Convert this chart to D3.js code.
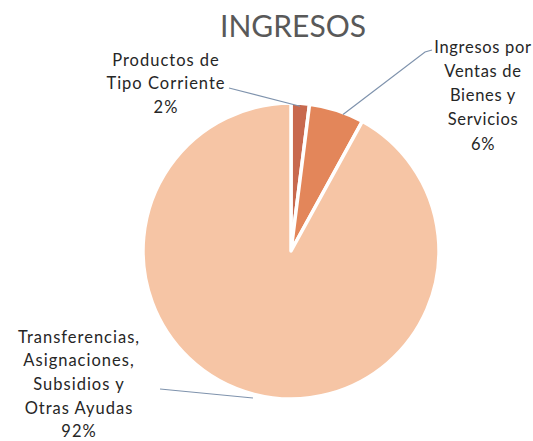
<!DOCTYPE html>
<html>
<head>
<meta charset="utf-8">
<script src="https://cdn.jsdelivr.net/npm/d3@7/dist/d3.min.js"></script>
<style>
  html, body { margin: 0; padding: 0; background: #ffffff; }
  svg { display: block; }
  text { font-family: Lato, "Open Sans", "Liberation Sans", sans-serif; }
</style>
</head>
<body>
<svg id="chart" width="533" height="441"></svg>
<script>
// Income breakdown (percent of total)
const categories = [
  "Productos de Tipo Corriente",
  "Ingresos por Ventas de Bienes y Servicios",
  "Transferencias, Asignaciones, Subsidios y Otras Ayudas"
];
const values = [2, 6, 92];
const labelLines = [
  ["Productos de", "Tipo  Corriente"],
  ["Ingresos por", "Ventas de", "Bienes y", "Servicios"],
  ["Transferencias,", "Asignaciones,", "Subsidios y", "Otras Ayudas"]
];
const colors = ["#c8694e", "#e3865a", "#f6c5a5"];

const svg = d3.select("#chart");
const cx = 291, cy = 251, r = 148;

svg.append("text")
  .attr("x", 293).attr("y", 37)
  .attr("text-anchor", "middle")
  .attr("font-size", 30)
  .attr("fill", "#595959")
  .text("INGRESOS");

const pie = d3.pie().sort(null).value(d => d)(values);
const arc = d3.arc().innerRadius(0).outerRadius(r);

const g = svg.append("g").attr("transform", `translate(${cx},${cy})`);
g.selectAll("path")
  .data(pie)
  .join("path")
  .attr("d", arc)
  .attr("fill", (d, i) => colors[i])
  .attr("stroke", "#ffffff")
  .attr("stroke-width", 3.5)
  .attr("stroke-linejoin", "round");

// Label blocks: centre x, first line centre y, line spacing
const labelPos = [
  { x: 166, y: 60, dy: 23.5, ls: 1.0 },
  { x: 483, y: 47, dy: 24.2, ls: 0.7 },
  { x: 79, y: 337, dy: 23.6, ls: 1.0 }
];

labelLines.forEach((lines, i) => {
  const p = labelPos[i];
  const t = svg.append("text")
    .attr("text-anchor", "middle")
    .attr("font-size", 16.5)
    .attr("letter-spacing", p.ls)
    .attr("fill", "#262626");
  const all = lines.concat([Math.round(values[i]) + "%"]);
  all.forEach((s, k) => {
    t.append("tspan")
      .attr("x", p.x)
      .attr("y", p.y + k * p.dy)
      .attr("dy", "0.35em")
      .text(s);
  });
});

// Leader lines from the labels to their slices
const polar = (a, rr) => [cx + rr * Math.sin(a), cy - rr * Math.cos(a)];
const leaders = [
  [[229, 88], polar((pie[0].startAngle + pie[0].endAngle) / 2, r - 3)],
  [[432, 50], [425, 52], polar((pie[1].startAngle + pie[1].endAngle) / 2 + 0.05, r - 2)],
  [[160, 389], [253, 398]]
];
const line = d3.line();
svg.selectAll("path.leader")
  .data(leaders)
  .join("path")
  .attr("class", "leader")
  .attr("d", line)
  .attr("fill", "none")
  .attr("stroke", "#7f93ad")
  .attr("stroke-width", 1.2);
</script>
</body>
</html>
